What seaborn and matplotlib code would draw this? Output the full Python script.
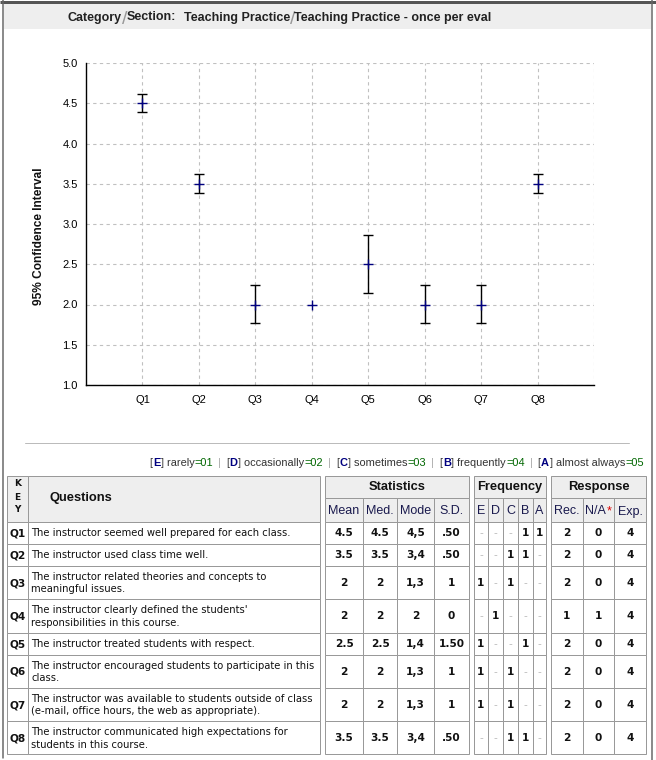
import matplotlib
matplotlib.use('Agg')
import matplotlib.pyplot as plt
import numpy as np
import seaborn as sns
from matplotlib.patches import Rectangle

# ---------------- data ----------------
questions = ['Q1', 'Q2', 'Q3', 'Q4', 'Q5', 'Q6', 'Q7', 'Q8']
means = [4.5, 3.5, 2.0, 2.0, 2.5, 2.0, 2.0, 3.5]
ci_low = [4.39, 3.38, 1.77, 2.0, 2.14, 1.77, 1.77, 3.38]
ci_high = [4.61, 3.62, 2.24, 2.0, 2.86, 2.24, 2.24, 3.62]
y_ticks = [1.0, 1.5, 2.0, 2.5, 3.0, 3.5, 4.0, 4.5, 5.0]

question_texts = [
    "The instructor seemed well prepared for each class.",
    "The instructor used class time well.",
    "The instructor related theories and concepts to\nmeaningful issues.",
    "The instructor clearly defined the students'\nresponsibilities in this course.",
    "The instructor treated students with respect.",
    "The instructor encouraged students to participate in this\nclass.",
    "The instructor was available to students outside of class\n(e-mail, office hours, the web as appropriate).",
    "The instructor communicated high expectations for\nstudents in this course.",
]
stat_mean = ['4.5', '3.5', '2', '2', '2.5', '2', '2', '3.5']
stat_med = ['4.5', '3.5', '2', '2', '2.5', '2', '2', '3.5']
stat_mode = ['4,5', '3,4', '1,3', '2', '1,4', '1,3', '1,3', '3,4']
stat_sd = ['.50', '.50', '1', '0', '1.50', '1', '1', '.50']
freq_E = ['-', '-', '1', '-', '1', '1', '1', '-']
freq_D = ['-', '-', '-', '1', '-', '-', '-', '-']
freq_C = ['-', '1', '1', '-', '-', '1', '1', '1']
freq_B = ['1', '1', '-', '-', '1', '-', '-', '1']
freq_A = ['1', '-', '-', '-', '-', '-', '-', '-']
resp_rec = ['2', '2', '2', '1', '2', '2', '2', '2']
resp_na = ['0', '0', '0', '1', '0', '0', '0', '0']
resp_exp = ['4', '4', '4', '4', '4', '4', '4', '4']

freq_letters = ['E', 'D', 'C', 'B', 'A']
freq_labels = ['rarely', 'occasionally', 'sometimes', 'frequently', 'almost always']
freq_codes = ['01', '02', '03', '04', '05']

title_category = 'Category'
title_section = 'Section:'
title_cat_value = 'Teaching Practice'
title_sec_value = 'Teaching Practice - once per eval'
y_label = '95% Confidence Interval'

# ---------------- figure ----------------
sns.set_style('white')
plt.rcParams['font.family'] = ['Liberation Sans', 'DejaVu Sans']

W, H = 656, 760
fig = plt.figure(figsize=(W / 100, H / 100), dpi=100)
bg = fig.add_axes([0, 0, 1, 1])
bg.set_xlim(0, W)
bg.set_ylim(H, 0)
bg.axis('off')
bg.set_zorder(0)
renderer = fig.canvas.get_renderer()

PX = 0.72  # one pixel in points


def rect(x0, y0, x1, y1, fc='none', ec='#999999', lw=1.0):
    bg.add_patch(Rectangle((x0, y0), x1 - x0, y1 - y0, facecolor=fc,
                           edgecolor=ec, lw=lw * PX))


def runs(x, y, pieces, ha='left'):
    """Draw text pieces side by side on a common baseline y.
    Each piece: (text, style, gap_after[, dy])."""
    objs, widths = [], []
    for p in pieces:
        txt, kw, gap = p[0], p[1], p[2]
        dy = p[3] if len(p) > 3 else 0
        t = bg.text(0, y + dy, txt, va='baseline', ha='left', **kw)
        w = t.get_window_extent(renderer).width
        objs.append(t)
        widths.append(w + gap)
    total = sum(widths) - pieces[-1][2]
    if ha == 'left':
        cx = x
    elif ha == 'right':
        cx = x - total
    else:
        cx = x - total / 2
    for t, w in zip(objs, widths):
        t.set_x(cx)
        cx += w


# outer frame and title band
rect(4, 4, 651, 29, fc='#eeeeee', ec='none')
bg.plot([0, W], [1.5, 1.5], color='#555555', lw=3 * PX, solid_capstyle='butt')
bg.plot([3, 3], [0, 758], color='#666666', lw=1.5 * PX)
bg.plot([651.5, 651.5], [0, 760], color='#666666', lw=1.5 * PX)

tb = dict(fontsize=9, fontweight='bold', color='#222222')
sl = dict(fontsize=14, color='#999999', fontweight='light')
runs(68, 20.5, [(title_category, tb, -0.5), ('/', sl, -0.5, 3.5), (title_section, tb, 8),
                (title_cat_value, tb, -0.5), ('/', sl, -0.5, 3.5), (title_sec_value, tb, 0)])

# y label
bg.text(39, 236, y_label, rotation=90, ha='center', va='center',
        fontsize=8.6, fontweight='bold', color='#111111')

# ---------------- chart ----------------
ax = fig.add_axes([86 / W, 1 - 385 / H, (594 - 86) / W, (385 - 63) / H],
                  facecolor='none')
ax.set_zorder(2)
xpos = np.arange(1, len(questions) + 1)
m = np.array(means)
lo = np.array(ci_low)
hi = np.array(ci_high)
mask = hi > lo
ax.errorbar(xpos[mask], m[mask], yerr=[m[mask] - lo[mask], hi[mask] - m[mask]],
            fmt='none', ecolor='black', elinewidth=1.0, capsize=3.8,
            capthick=1.0, zorder=3)
sns.scatterplot(x=xpos, y=m, marker='+', s=55, color='#000080',
                linewidth=1.0, ax=ax, zorder=4, legend=False)

ax.set_xlim(0, 9)
ax.set_ylim(1, 5)
ax.set_xticks(list(xpos) + [9])
ax.set_xticklabels(questions + [''])
ax.set_yticks(y_ticks)
ax.set_yticklabels([f'{v:.1f}' for v in y_ticks])
ax.tick_params(axis='x', direction='inout', length=10, width=1.0,
               color='black', labelsize=8, pad=2, labelcolor='black')
ax.tick_params(axis='y', direction='out', length=5, width=1.0,
               color='black', labelsize=8, pad=1, labelcolor='black')
ax.grid(True, color='#c0c0c0', linestyle=(0, (3, 3)), linewidth=0.8)
ax.set_axisbelow(True)
for s in ['top', 'right']:
    ax.spines[s].set_visible(False)
for s in ['left', 'bottom']:
    ax.spines[s].set_color('black')
    ax.spines[s].set_linewidth(1.0)
ax.yaxis.get_major_ticks()[0].tick1line.set_visible(False)
ax.set_xlabel('')
ax.set_ylabel('')

# ---------------- legend line ----------------
bg.plot([25, 629], [443, 443], color='#bbbbbb', lw=1 * PX)
fs = 7.95
dark = dict(fontsize=fs, color='#333333')
navy = dict(fontsize=fs, color='#000080', fontweight='bold')
green = dict(fontsize=fs, color='#006600')
sep = dict(fontsize=fs, color='#aaaaaa')
pieces = []
for i, (L, lab, code) in enumerate(zip(freq_letters, freq_labels, freq_codes)):
    pieces += [('[', dark, 0.5), (L, navy, 0.5), ('] ' + lab, dark, 0.3), ('=' + code, green, 5)]
    if i < len(freq_letters) - 1:
        pieces.append(('|', sep, 5))
pieces[-1] = (pieces[-1][0], pieces[-1][1], 0)
runs(644, 466, pieces, ha='right')

# ---------------- table ----------------
hdr_fc = '#eeeeee'
T0, T1, T2 = 476, 498, 522
row_h = [22 if '\n' not in q else 33.3 for q in question_texts]
row_edges = [T2]
for h in row_h:
    row_edges.append(row_edges[-1] + h)

key_x = (7, 28)
q_x = (28, 320)
stat_cols = [325, 363, 397, 434, 469]
freq_cols = [474, 488, 503, 518, 533, 546]
resp_cols = [551, 583, 614, 646]

# headers
rect(key_x[0], T0, key_x[1], T2, fc=hdr_fc)
rect(q_x[0], T0, q_x[1], T2, fc=hdr_fc)
kb = dict(fontsize=6.5, fontweight='bold', color='#111111', family='DejaVu Sans',
          ha='center', va='center')
for ch, yy in zip('KEY', [484, 497, 510]):
    bg.text(17.5, yy, ch, **kb)
bg.text(49, 498, 'Questions', fontsize=9.3, fontweight='bold', color='#111111',
        ha='left', va='center')

grp = dict(fontsize=9.3, fontweight='bold', color='#111111', ha='center', va='center')
sub = dict(fontsize=9, color='#1a1a4e', ha='center', va='baseline')
for cols, name in [(stat_cols, 'Statistics'), (freq_cols, 'Frequency'),
                   (resp_cols, 'Response')]:
    rect(cols[0], T0, cols[-1], T1, fc=hdr_fc)
    bg.text((cols[0] + cols[-1]) / 2, 487, name, **grp)
    for a, b in zip(cols[:-1], cols[1:]):
        rect(a, T1, b, T2, fc=hdr_fc)

SUB_BASE = 514.5
for (a, b), name in zip(zip(stat_cols[:-1], stat_cols[1:]), ['Mean', 'Med.', 'Mode', 'S.D.']):
    bg.text((a + b) / 2, SUB_BASE, name, **sub)
for (a, b), name in zip(zip(freq_cols[:-1], freq_cols[1:]), freq_letters):
    bg.text((a + b) / 2, SUB_BASE, name, **sub)
for (a, b), name in zip(zip(resp_cols[:-1], resp_cols[1:]), ['Rec.', 'N/A', 'Exp.']):
    if name == 'N/A':
        runs((a + b) / 2, SUB_BASE, [('N/A', dict(fontsize=9, color='#1a1a4e'), 0.5),
                                     ('*', dict(fontsize=9, color='#dd0000'), 0)], ha='center')
    else:
        bg.text((a + b) / 2, SUB_BASE, name, **sub)

# body
qt = dict(fontsize=7.2, color='#111111', family='DejaVu Sans', ha='left',
          va='center', linespacing=1.3)
kt = dict(fontsize=7.6, fontweight='bold', color='#111111', family='DejaVu Sans',
          ha='center', va='center')
vt = dict(fontsize=7.6, fontweight='bold', color='#111111', family='DejaVu Sans',
          ha='center', va='center')
dash = dict(fontsize=7.6, color='#bbbbbb', family='DejaVu Sans',
            ha='center', va='center')

for i in range(len(questions)):
    y0, y1 = row_edges[i], row_edges[i + 1]
    yc = (y0 + y1) / 2 + 0.5
    rect(key_x[0], y0, key_x[1], y1, fc='white')
    rect(q_x[0], y0, q_x[1], y1, fc='white')
    bg.text(17.5, yc, questions[i], **kt)
    bg.text(31, yc, question_texts[i], **qt)
    for vals, cols in [([stat_mean[i], stat_med[i], stat_mode[i], stat_sd[i]], stat_cols),
                       ([freq_E[i], freq_D[i], freq_C[i], freq_B[i], freq_A[i]], freq_cols),
                       ([resp_rec[i], resp_na[i], resp_exp[i]], resp_cols)]:
        for v, a, b in zip(vals, cols[:-1], cols[1:]):
            rect(a, y0, b, y1, fc='white')
            bg.text((a + b) / 2, yc, v, **(dash if v == '-' else vt))

fig.savefig('out.png', dpi=100)
